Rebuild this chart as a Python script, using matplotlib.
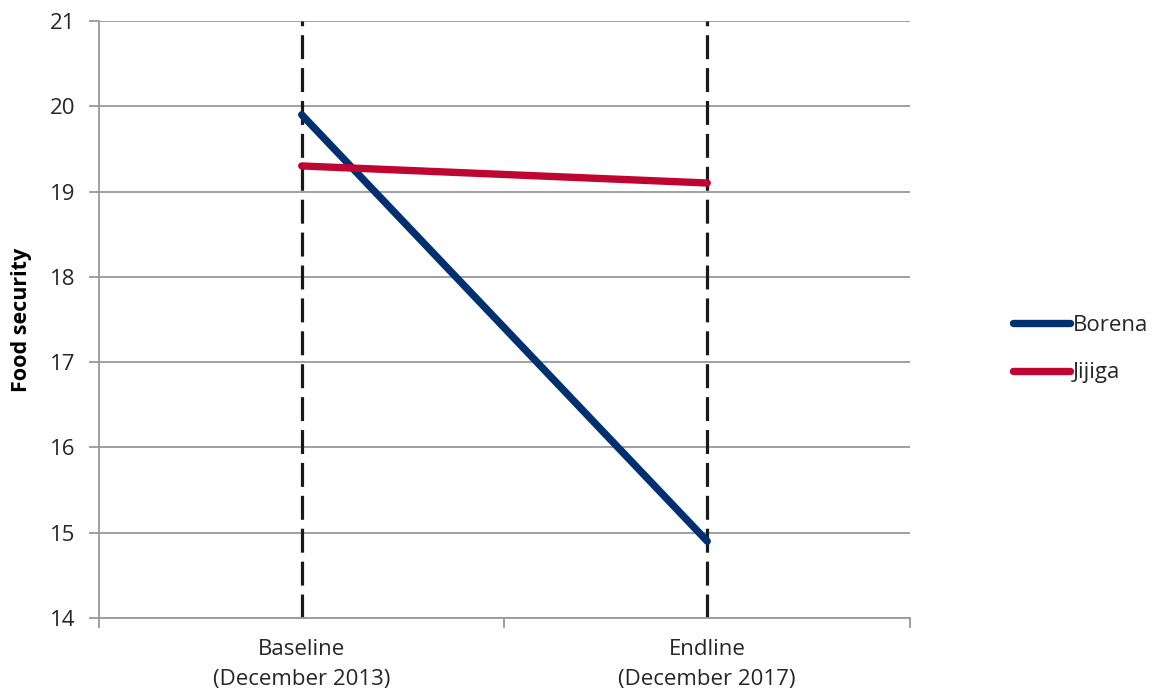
import matplotlib.pyplot as plt

# survey rounds and mean food security score per region
rounds = ['Baseline\n(December 2013)', 'Endline\n(December 2017)']
borena = [19.9, 14.9]
jijiga = [19.3, 19.1]
y_ticks = [14, 15, 16, 17, 18, 19, 20, 21]

plt.rcParams['font.family'] = ['Open Sans', 'DejaVu Sans']
text_col = '#262626'
grid_col = '#999999'

fig = plt.figure(figsize=(11.56, 6.98), dpi=100)
ax = fig.add_axes([0.0856, 0.1146, 0.7016, 0.8554])

x = range(len(rounds))
for xi in x:
    ax.axvline(xi, color='#1a1a1a', lw=2.3, dashes=(7.5, 2.8), zorder=2)

ax.plot(x, borena, color='#00306F', lw=5.3, solid_capstyle='round', label='Borena', zorder=3)
ax.plot(x, jijiga, color='#BF0532', lw=5.3, solid_capstyle='round', label='Jijiga', zorder=3)

ax.set_xlim(-0.5, 1.5)
ax.set_ylim(14, 21)
ax.set_yticks(y_ticks)
ax.yaxis.grid(True, color=grid_col, lw=1.3)
ax.set_axisbelow(True)

# category labels sit between boundary tick marks
ax.set_xticks([-0.5, 0.5, 1.5])
ax.set_xticklabels([])
ax.set_xticks(list(x), minor=True)
ax.set_xticklabels(rounds, minor=True, fontsize=16, color=text_col, linespacing=1.6)
ax.tick_params(axis='x', which='minor', length=0, pad=15)
ax.tick_params(axis='x', which='major', length=7, width=1.3, color=grid_col, direction='out')
ax.tick_params(axis='y', length=7, width=1.3, color=grid_col, labelsize=16, labelcolor=text_col, pad=10)

for side in ['top', 'right']:
    ax.spines[side].set_visible(False)
for side in ['left', 'bottom']:
    ax.spines[side].set_color(grid_col)
    ax.spines[side].set_linewidth(1.3)

ax.set_ylabel('Food security', fontsize=15.5, fontweight='bold', color='black', labelpad=13)

fig.legend(loc='center left', bbox_to_anchor=(0.876, 0.50), frameon=False,
           borderaxespad=0, borderpad=0,
           fontsize=16, handlelength=2.6, handletextpad=0.1, labelspacing=1.2,
           labelcolor=text_col)

fig.savefig('out.png', dpi=100)
